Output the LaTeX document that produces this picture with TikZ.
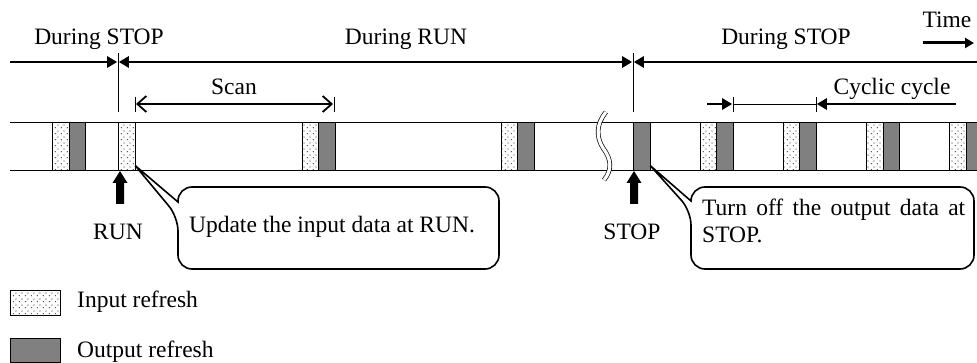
\documentclass[tikz,border=0pt]{standalone}
\usepackage{fontspec}
\setmainfont{Liberation Serif}
\usetikzlibrary{arrows.meta,patterns.meta}

% sparse staggered dots for the input-refresh bars
\tikzdeclarepattern{
  name=sparsedots, type=uncolored,
  bottom left={(0pt,0pt)}, top right={(6pt,6pt)},
  tile size={(6pt,6pt)},
  code={\fill (1.5pt,1.5pt) circle (0.75pt); \fill (4.5pt,4.5pt) circle (0.75pt);}
}

\tikzset{
  tri/.tip={Triangle[length=10pt,width=11pt]},
  barb/.tip={Straight Barb[length=9pt,width=16pt]},
  lbl/.style={anchor=base, inner sep=0pt, font=\fontsize{23.5}{27}\selectfont},
  inbar/.style={draw, line width=0.6pt, preaction={fill=white}, pattern=sparsedots,
    pattern color=black!70, minimum width=16.6pt, minimum height=48pt,
    inner sep=0pt, anchor=north west},
  outbar/.style={draw, line width=0.6pt, fill=black!50, minimum width=16.6pt,
    minimum height=48pt, inner sep=0pt, anchor=north west},
  span/.style={line width=2.6pt},
  thin/.style={line width=0.9pt},
  bubble/.style={line width=1.6pt, fill=white, rounded corners=14pt},
  uparrow/.style={fill=black},
}

\begin{document}
\begin{tikzpicture}[x=1pt,y=-1pt]
\useasboundingbox (0,0) rectangle (977,363);

% ---- period labels and the time direction ----
\node[lbl] (stopA) at (99,45) {During STOP};
\node[lbl] (runP) at (406,45) {During RUN};
\node[lbl] (stopB) at (786,45) {During STOP};
\node[lbl] (timeL) at (947,28) {Time};
\coordinate (ta) at (923,43);
\coordinate (tb) at (974,43);
\draw[line width=3pt,-{Triangle[length=9pt,width=10pt]}] (ta) -- (tb);

% ---- period spans ----
\coordinate (s0) at (10,62);
\coordinate (sR) at (118,62);
\coordinate (sS) at (633,62);
\coordinate (s1) at (977,62);
\draw[span,-tri] (s0) -- ([xshift=-0.8pt]sR);
\draw[span,tri-tri] ([xshift=0.8pt]sR) -- ([xshift=-0.8pt]sS);
\draw[span,tri-] ([xshift=0.8pt]sS) -- (s1);
\coordinate (vR) at (118,53);
\coordinate (vS) at (633,53);
\draw[thin] (vR) -- (118,112);
\draw[thin] (vS) -- (633,112);

% ---- scan ----
\node[lbl] (scanL) at (234,95) {Scan};
\coordinate (sc0) at (135,104);
\coordinate (sc1) at (334,104);
\draw[thin] (135,97) -- (135,112);
\draw[thin] (334,97) -- (334,112);
\draw[line width=1.8pt,barb-barb] ([xshift=1pt]sc0) -- ([xshift=-1pt]sc1);

% ---- cyclic cycle ----
\node[lbl] (cycL) at (892,95) {Cyclic cycle};
\coordinate (cy0) at (733,104);
\coordinate (cy1) at (816,104);
\draw[thin] (733,97) -- (733,112);
\draw[thin] (816,97) -- (816,112);
\draw[thin] (cy0) -- (cy1);
\draw[span,-tri] (707,104) -- ([xshift=-0.8pt]cy0);
\draw[span,-tri] (956,104) -- ([xshift=0.8pt]cy1);

% ---- timeline band ----
\draw[thin] (10,122) -- (977,122);
\draw[thin] (10,170) -- (977,170);

% refresh bars
\node[inbar]  (i1) at (52,122) {};
\node[outbar] (o1) at (68.6,122) {};
\node[inbar]  (iR) at (118,122) {};
\node[inbar]  (i2) at (301.5,122) {};
\node[outbar] (o2) at (318.1,122) {};
\node[inbar]  (i3) at (500.5,122) {};
\node[outbar] (o3) at (517.1,122) {};
\node[outbar] (oS) at (633,122) {};
\node[inbar]  (i4) at (699.5,122) {};
\node[outbar] (o4) at (716.1,122) {};
\node[inbar]  (i5) at (782.8,122) {};
\node[outbar] (o5) at (799.4,122) {};
\node[inbar]  (i6) at (866.1,122) {};
\node[outbar] (o6) at (882.7,122) {};
\node[inbar]  (i7) at (949.4,122) {};
\begin{scope}
  \clip (940,100) rectangle (977,180);
  \node[outbar] (o7) at (966,122) {};
\end{scope}

% time-axis break
\draw[line width=0.7pt, double=white, double distance=3.2pt]
  (606,112) .. controls (596,124) and (596,137) .. (603,148)
            .. controls (612,160) and (612,170) .. (604,180);

% ---- RUN / STOP events ----
\fill[uparrow] (120,171) -- (127.5,183) -- (124,183) -- (124,204) -- (116,204)
  -- (116,183) -- (112.5,183) -- cycle;
\fill[uparrow] (634,171) -- (641.5,183) -- (638,183) -- (638,204) -- (630,204)
  -- (630,183) -- (626.5,183) -- cycle;
\node[lbl] (runL) at (118,240) {RUN};
\node[lbl] (stopL) at (632,240) {STOP};

% ---- callouts ----
\draw[bubble] (178,202) -- (178,187) -- (499,187) -- (499,269) -- (178,269)
  -- (178,217) [sharp corners] -- ([yshift=5pt]iR.south east) -- cycle;
\node[lbl] (noteR) at (332,233) {Update the input data at RUN.};

\draw[bubble] (691,201) -- (691,187) -- (974,187) -- (974,269) -- (691,269)
  -- (691,211) [sharp corners] -- ([yshift=5pt]oS.south east) -- cycle;
\node[lbl, anchor=north west, text width=263pt, align=justify,
  font=\fontsize{23.5}{27}\selectfont] (noteS) at (702,199)
  {Turn off the output data at STOP.};

% ---- legend ----
\node[inbar, minimum width=50pt, minimum height=25pt] (legI) at (10,290) {};
\node[lbl, anchor=base west] (legIt) at (77,308) {Input refresh};
\node[outbar, minimum width=50pt, minimum height=24pt] (legO) at (10,338) {};
\node[lbl, anchor=base west] (legOt) at (77,357) {Output refresh};
\end{tikzpicture}
\end{document}
